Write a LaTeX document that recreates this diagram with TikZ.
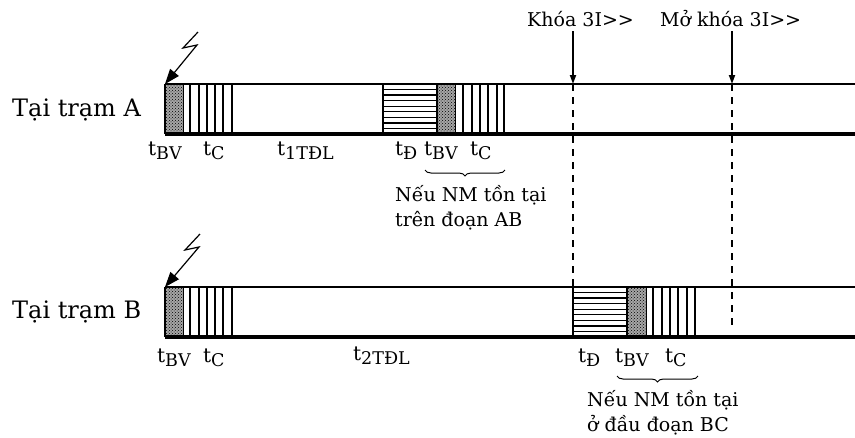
\documentclass[tikz,border=0pt]{standalone}
\usepackage{fontspec}
\setmainfont{DejaVu Serif}
\usetikzlibrary{patterns,decorations.pathreplacing,arrows.meta}
\newcommand\tlab[1]{t\raisebox{-0.45ex}{\fontsize{17.5}{17.5}\selectfont #1}}
\begin{document}
\begin{tikzpicture}[x=1pt,y=-1pt,
  lbl/.style={font=\fontsize{20}{22}\selectfont, inner sep=0pt, anchor=base west},
  station/.style={font=\fontsize{24}{26}\selectfont, inner sep=0pt, anchor=west},
  note/.style={font=\fontsize{19}{25}\selectfont, inner sep=0pt, anchor=north west, align=left},
  topnote/.style={font=\fontsize{19}{22}\selectfont, inner sep=0pt, anchor=west},
  barline/.style={line width=1.4pt},
  barbase/.style={line width=3.5pt},
  stripe/.style={line width=1.3pt},
  dotblk/.style={preaction={fill=black!35}, pattern=crosshatch dots, draw, line width=1pt},
  guide/.style={line width=1.5pt, dash pattern=on 7pt off 6pt},
  marker/.style={line width=1.8pt, -{Triangle[length=9pt,width=6pt]}},
  bolt/.style={line width=1.2pt, -{Triangle[length=15pt,width=11pt]}},
  brc/.style={decorate, decoration={brace, mirror, amplitude=6pt}, line width=1pt}
]
\useasboundingbox (0,0) rectangle (855,437);

% ---------- Row A bar ----------
\filldraw[dotblk] (165,84) rectangle (183,134);
\foreach \x in {190,199,207,215,223,232} \draw[stripe] (\x,84) -- (\x,134);
\draw[stripe] (383,84) rectangle (437,134);
\foreach \k in {1,...,8} \draw[stripe] (383,{84+\k*50/9}) -- (437,{84+\k*50/9});
\filldraw[dotblk] (437,84) rectangle (455,134);
\foreach \x in {463,472,480,488,497,504} \draw[stripe] (\x,84) -- (\x,134);
\draw[barline] (165,84) -- (855,84);
\draw[barline] (165,84) -- (165,134);
\draw[barbase] (165,134) -- (855,134);

% ---------- Row B bar ----------
\filldraw[dotblk] (165,287) rectangle (183,337);
\foreach \x in {190,199,207,215,223,232} \draw[stripe] (\x,287) -- (\x,337);
\draw[stripe] (573,287) rectangle (627,337);
\foreach \k in {1,...,8} \draw[stripe] (573,{287+\k*50/9}) -- (627,{287+\k*50/9});
\filldraw[dotblk] (627,287) rectangle (646,337);
\foreach \x in {653,662,670,678,687,695} \draw[stripe] (\x,287) -- (\x,337);
\draw[barline] (165,287) -- (855,287);
\draw[barline] (165,287) -- (165,337);
\draw[barbase] (165,337) -- (855,337);

% ---------- station labels ----------
\node[station] (stA) at (12,110) {Tại trạm A};
\node[station] (stB) at (12,312) {Tại trạm B};

% ---------- lock markers ----------
\node[topnote] (khoa) at (527,19) {Khóa 3I>{}>};
\node[topnote] (mokhoa) at (660,19) {Mở khóa 3I>{}>};
\coordinate (k1top) at (573,31);
\coordinate (k1bar) at (573,84);
\coordinate (k1end) at (573,287);
\coordinate (k2top) at (732,31);
\coordinate (k2bar) at (732,84);
\coordinate (k2end) at (732,331);
\draw[marker] (k1top) -- (k1bar);
\draw[marker] (k2top) -- (k2bar);
\draw[guide] (k1bar) -- (k1end);
\draw[guide] (k2bar) -- (k2end);

% ---------- lightning bolts ----------
\coordinate (bA) at (165,84);
\coordinate (bB) at (165,287);
\draw[bolt] (198,32) -- (183,48) -- (197,45) -- (bA);
\draw[bolt] (200,234) -- (185,250) -- (199,247) -- (bB);

% ---------- row A time labels ----------
\node[lbl] (a1) at (148,155) {\tlab{BV}};
\node[lbl] (a2) at (203,155) {\tlab{C}};
\node[lbl] (a3) at (277,155) {\tlab{1TĐL}};
\node[lbl] (a4) at (395,155) {\tlab{Đ}};
\node[lbl] (a5) at (424,155) {\tlab{BV}};
\node[lbl] (a6) at (470,155) {\tlab{C}};
\coordinate (braA1) at (425,170);
\coordinate (braA2) at (505,170);
\draw[brc] (braA1) -- (braA2);
\node[note] (noteA) at (395,185) {Nếu NM tồn tại\\ trên đoạn AB};

% ---------- row B time labels ----------
\node[lbl] (b1) at (157,362) {\tlab{BV}};
\node[lbl] (b2) at (203,362) {\tlab{C}};
\node[lbl] (b3) at (353,360) {\tlab{2TĐL}};
\node[lbl] (b4) at (578,362) {\tlab{Đ}};
\node[lbl] (b5) at (615,362) {\tlab{BV}};
\node[lbl] (b6) at (665,362) {\tlab{C}};
\coordinate (braB1) at (617,376);
\coordinate (braB2) at (698,376);
\draw[brc] (braB1) -- (braB2);
\node[note] (noteB) at (587,390) {Nếu NM tồn tại\\ ở đầu đoạn BC};
\end{tikzpicture}
\end{document}
